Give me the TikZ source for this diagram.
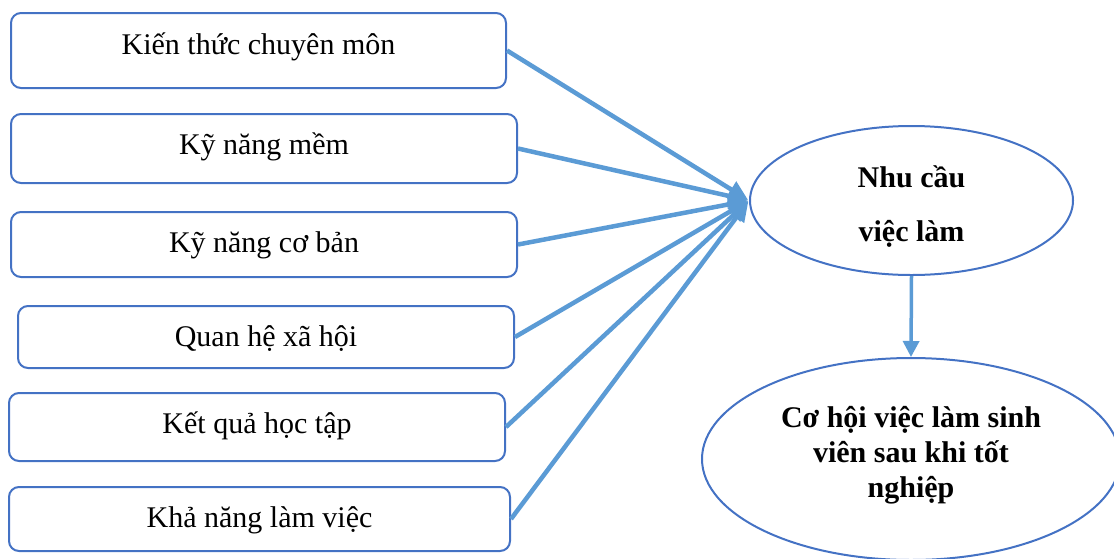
\documentclass[tikz,border=0pt]{standalone}
\usepackage{fontspec}
\setmainfont{Liberation Serif}
\usetikzlibrary{arrows.meta, positioning, shapes}
\definecolor{boxblue}{HTML}{4472C4}
\definecolor{arrblue}{HTML}{5B9BD5}
\tikzset{
	factor/.style={draw=boxblue, line width=2pt, rounded corners=10pt, minimum width=496pt,
		text height=20pt, text depth=10pt, font=\fontsize{30}{35}\selectfont},
	goal/.style={draw=boxblue, line width=2pt, ellipse, inner sep=0pt, align=center,
		font=\fontsize{30}{35}\selectfont\bfseries},
	link/.style={arrblue, line width=4.5pt, -{Triangle[length=20pt,width=18pt]}, shorten >=1pt},
	down/.style={arrblue, line width=3.5pt, -{Triangle[length=16pt,width=16pt]}}
}
\begin{document}
\begin{tikzpicture}[x=1pt, y=-1pt]
		\clip (0,0) rectangle (1114,558);
			%factors
			\node[factor, minimum width=495pt, minimum height=75pt, text depth=13pt] (kien) at (258.5,50.5) {Kiến thức chuyên môn};
			\node[factor, minimum width=506pt, minimum height=69pt, text depth=8pt] (mem) at (264,148.5) {Kỹ năng mềm};
			\node[factor, minimum width=506pt, minimum height=65pt, text depth=5pt] (coban) at (264,244.5) {Kỹ năng cơ bản};
			\node[factor, minimum width=496pt, minimum height=62pt, text depth=1pt] (quanhe) at (266,337) {Quan hệ xã hội};
			\node[factor, minimum width=496pt, minimum height=68pt, text depth=7pt] (ketqua) at (257,427) {Kết quả học tập};
			\node[factor, minimum width=501pt, minimum height=64pt, text depth=4pt] (khanang) at (259.5,519) {Khả năng làm việc};

			%outcomes
			\node[goal, minimum width=323pt, minimum height=149pt, font=\fontsize{30}{54}\selectfont\bfseries] (nhucau) at (911.5,200.5) {\rule{0pt}{34pt}Nhu cầu\\việc làm};
			\node[goal, minimum width=418pt, minimum height=202pt] (cohoi) at (911,459) {Cơ hội việc làm sinh\\viên sau khi tốt\\nghiệp\rule[-14pt]{0pt}{0pt}};

			%arrows
			\foreach \f in {kien,mem,coban,quanhe,ketqua,khanang}
			\draw[link] (\f.east) -- (nhucau.west);
			\draw[down] (nhucau.south) -- (cohoi.north);
	\end{tikzpicture}
\end{document}
